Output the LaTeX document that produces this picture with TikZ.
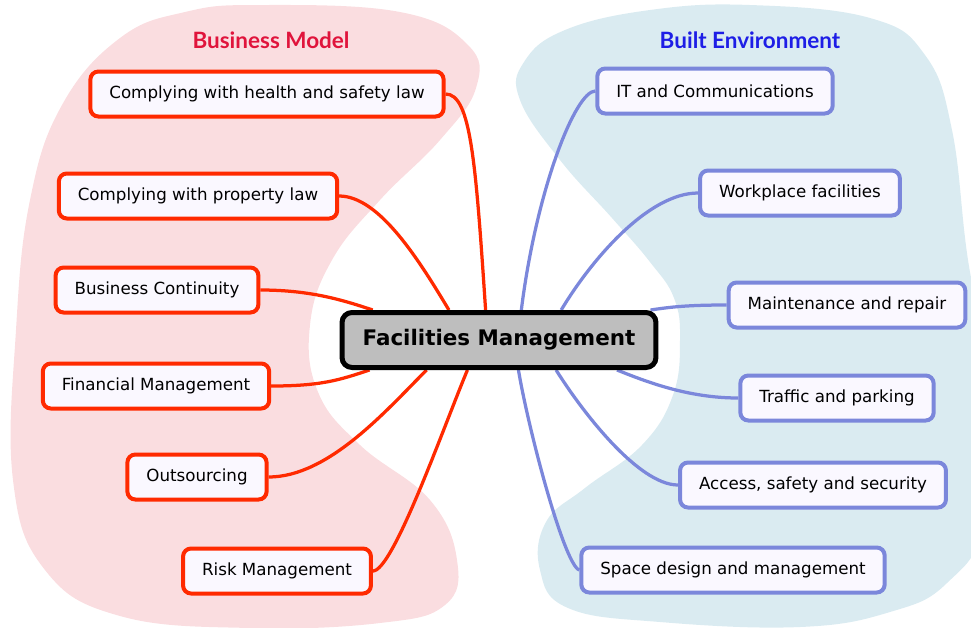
\documentclass[tikz,border=0pt]{standalone}
\usepackage{fontspec}
\setmainfont{DejaVu Sans}
\newfontfamily\titlefont{Lato}
\usetikzlibrary{calc, positioning}
\definecolor{bmRed}{HTML}{FF2A00}
\definecolor{bmTitle}{HTML}{E0143C}
\definecolor{bmZone}{HTML}{FADDE0}
\definecolor{beBlue}{HTML}{7B87DB}
\definecolor{beTitle}{HTML}{1E1EE6}
\definecolor{beZone}{HTML}{DAEBF1}
\definecolor{leafFill}{HTML}{FAF8FF}
\definecolor{hubFill}{HTML}{BEBEBE}
\pgfdeclarelayer{zones}
\pgfdeclarelayer{links}
\pgfsetlayers{zones,links,main}
\tikzset{
    leaf/.style={rectangle, rounded corners=0.16cm, fill=leafFill, line width=0.08cm, minimum height=0.9cm, inner xsep=0.38cm, font=\fontsize{9.5}{11}\selectfont},
    leafRed/.style={leaf, draw=bmRed},
    leafBlue/.style={leaf, draw=beBlue},
    hub/.style={rectangle, rounded corners=0.2cm, draw=black, fill=hubFill, line width=0.1cm, minimum height=1.1cm, minimum width=6.28cm, font=\fontsize{12.2}{14}\selectfont\bfseries},
    redLink/.style={draw=bmRed, line width=0.065cm},
    blueLink/.style={draw=beBlue, line width=0.065cm},
    zoneTitle/.style={font=\titlefont\fontsize{12.8}{15}\selectfont\bfseries},
}
\newcommand{\drawBranch}[5][redLink]{
    % leaf side, hub side, then the two control offsets (in px)
    \begin{pgfonlayer}{links}
        \draw[#1] (#2) .. controls +#4 and +#5 .. (#3);
    \end{pgfonlayer}
}
\newcommand{\hubPoint}[3]{
    \coordinate (#1) at ($(fm.#2 west)!#3!(fm.#2 east)$);
}

\begin{document}
\begin{tikzpicture}[x=0.02cm, y=-0.02cm]
        \useasboundingbox (0,0) rectangle (971,627);

        % background zones
        \begin{pgfonlayer}{zones}
            \clip (0,0) rectangle (971,627);
            \fill[bmZone] plot[smooth cycle, tension=0.7] coordinates {
                (260,5) (400,12) (468,45) (476,88) (440,140) (380,200) (332,260)
                (310,325) (318,392) (360,445) (430,500) (457,560) (445,605)
                (380,623) (250,628) (120,616) (45,570) (13,480) (16,330)
                (30,200) (62,105) (120,38) (185,12)};
            \fill[beZone] plot[smooth cycle, tension=0.7] coordinates {
                (750,5) (870,18) (925,55) (952,130) (968,260) (990,380)
                (985,520) (947,583) (890,612) (800,627) (660,622) (568,608)
                (540,570) (546,522) (585,488) (642,445) (673,395) (680,340)
                (674,298) (650,262) (612,218) (560,160) (520,100) (524,62)
                (565,30) (650,10)};
        \end{pgfonlayer}

        \node[zoneTitle, text=bmTitle] (bmTitle) at (271,40) {Business Model};
        \node[zoneTitle, text=beTitle] (beTitle) at (750,40) {Built Environment};

        \node[hub] (fm) at (499,340) {Facilities Management};

        \node[leafRed] (health) at (267,94) {Complying with health and safety law};
        \node[leafRed] (property) at (198,196) {Complying with property law};
        \node[leafRed] (continuity) at (157,290) {Business Continuity};
        \node[leafRed] (finance) at (156,386) {Financial Management};
        \node[leafRed] (outsource) at (197,477) {Outsourcing};
        \node[leafRed] (risk) at (277,571) {Risk Management};

        \node[leafBlue] (itcom) at (715,91) {IT and Communications};
        \node[leafBlue] (workplace) at (800,193) {Workplace facilities};
        \node[leafBlue] (maint) at (847,305) {Maintenance and repair};
        \node[leafBlue] (traffic) at (837,398) {Traffic and parking};
        \node[leafBlue] (access) at (813,485) {Access, safety and security};
        \node[leafBlue] (space) at (733,570) {Space design and management};

        \hubPoint{fmHealth}{north}{0.458}
        \hubPoint{fmProperty}{north}{0.343}
        \hubPoint{fmContinuity}{north}{0.104}
        \hubPoint{fmFinance}{south}{0.094}
        \hubPoint{fmOutsource}{south}{0.273}
        \hubPoint{fmRisk}{south}{0.401}
        \hubPoint{fmItcom}{north}{0.570}
        \hubPoint{fmWorkplace}{north}{0.695}
        \hubPoint{fmMaint}{north}{0.975}
        \hubPoint{fmTraffic}{south}{0.870}
        \hubPoint{fmAccess}{south}{0.679}
        \hubPoint{fmSpace}{south}{0.561}

        \drawBranch{health.east}{fmHealth}{(25,0)}{(-10,-150)}
        \drawBranch{property.east}{fmProperty}{(40,0)}{(-30,-50)}
        \drawBranch{continuity.east}{fmContinuity}{(50,0)}{(-30,-10)}
        \drawBranch{finance.east}{fmFinance}{(50,0)}{(-30,10)}
        \drawBranch{outsource.east}{fmOutsource}{(60,0)}{(-40,40)}
        \drawBranch{risk.east}{fmRisk}{(20,0)}{(-25,60)}

        \drawBranch[blueLink]{itcom.west}{fmItcom}{(-20,0)}{(15,-120)}
        \drawBranch[blueLink]{workplace.west}{fmWorkplace}{(-50,0)}{(30,-50)}
        \drawBranch[blueLink]{maint.west}{fmMaint}{(-40,0)}{(20,-3)}
        \drawBranch[blueLink]{traffic.west}{fmTraffic}{(-50,0)}{(30,12)}
        \drawBranch[blueLink]{access.west}{fmAccess}{(-40,0)}{(25,40)}
        \drawBranch[blueLink]{space.west}{fmSpace}{(-15,-5)}{(10,60)}

    \end{tikzpicture}
\end{document}
